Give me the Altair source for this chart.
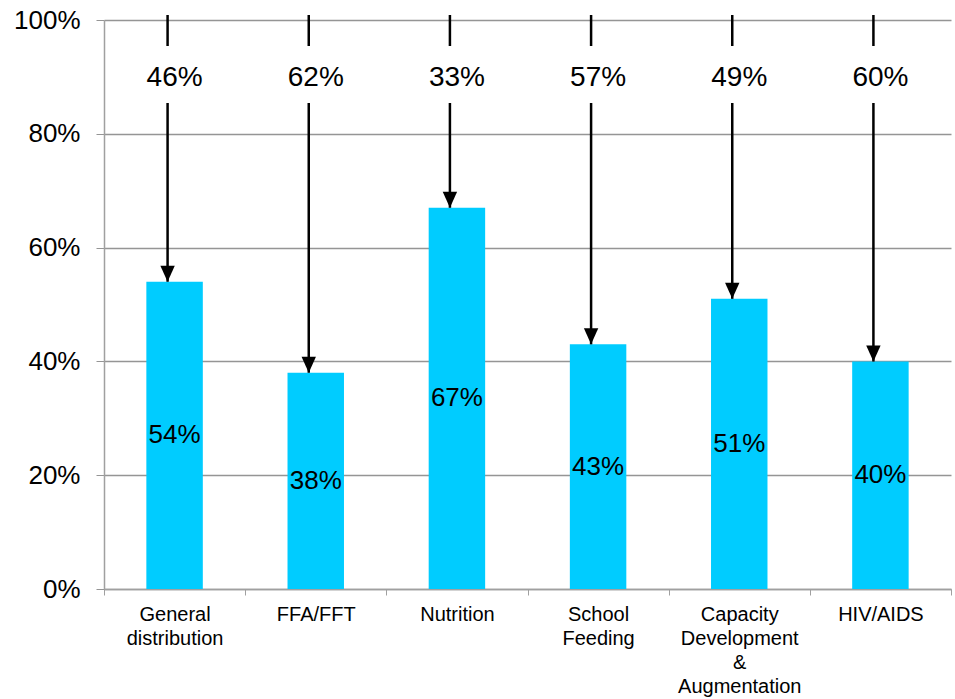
import altair as alt
import pandas as pd

FONT = "Liberation Sans"

# Programme activities and the share reached / the remaining gap
categories = [
    "General distribution",
    "FFA/FFT",
    "Nutrition",
    "School Feeding",
    "Capacity Development & Augmentation",
    "HIV/AIDS",
]
shares = [0.54, 0.38, 0.67, 0.43, 0.51, 0.40]
gaps = [0.46, 0.62, 0.33, 0.57, 0.49, 0.60]

df = pd.DataFrame({"category": categories, "share": shares, "gap": gaps})

x_enc = alt.X(
    "category:N",
    sort=categories,
    scale=alt.Scale(paddingInner=0, paddingOuter=0),
    axis=alt.Axis(
        title="",
        labelAngle=0,
        labelExpr="split(datum.label, ' ')",
        labelFont=FONT,
        labelFontSize=20,
        labelLineHeight=24,
        labelColor="black",
        labelPadding=9,
        tickBand="extent",
        tickSize=6,
        tickColor="#a0a0a0",
        domainColor="#a0a0a0",
        domainWidth=1.5,
    ),
)

y_scale = alt.Scale(domain=[0, 1], nice=False)
y_axis = alt.Axis(
    title="",
    values=[0, 0.2, 0.4, 0.6, 0.8, 1.0],
    format=".0%",
    labelFont=FONT,
    labelFontSize=26,
    labelColor="black",
    labelPadding=16,
    tickSize=8,
    tickColor="#959595",
    domainColor="#a0a0a0",
    domainWidth=1.5,
    grid=True,
    gridColor="#959595",
    gridWidth=1.5,
)

base = alt.Chart(df).encode(x=x_enc)

bars = base.mark_bar(color="#00CCFF", width=alt.RelativeBandSize(0.4)).encode(
    y=alt.Y("share:Q", scale=y_scale, axis=y_axis)
)

inner_labels = (
    base.transform_calculate(mid="datum.share / 2")
    .mark_text(font=FONT, fontSize=26, color="black", baseline="middle")
    .encode(y=alt.Y("mid:Q", scale=y_scale), text=alt.Text("share:Q", format=".0%"))
)

# arrow shaft: a short stub above the gap label, then the long run down to the bar
stub = base.mark_rule(color="black", strokeWidth=2.5, xOffset=-7).encode(
    y=alt.value(-5), y2=alt.value(26)
)
shaft = base.mark_rule(color="black", strokeWidth=2.5, xOffset=-7).encode(
    y=alt.Y("share:Q", scale=y_scale), y2=alt.value(83)
)
head = base.mark_point(
    shape="M-0.9,-1L0.9,-1L0,1Z",
    size=256,
    filled=True,
    color="black",
    opacity=1,
    xOffset=-7,
    yOffset=-8,
).encode(y=alt.Y("share:Q", scale=y_scale))

gap_labels = base.mark_text(
    font=FONT, fontSize=28, color="black", baseline="alphabetic"
).encode(y=alt.value(66), text=alt.Text("gap:Q", format=".0%"))

chart = (
    alt.layer(bars, inner_labels, stub, shaft, head, gap_labels)
    .properties(
        width=847,
        height=569,
        autosize=alt.AutoSizeParams(type="none"),
        padding={"left": 104, "top": 20, "right": 4, "bottom": 110},
        background="white",
    )
    .configure_view(strokeWidth=0)
)

chart.save("out.html", embed_options={"renderer": "svg", "actions": False})
